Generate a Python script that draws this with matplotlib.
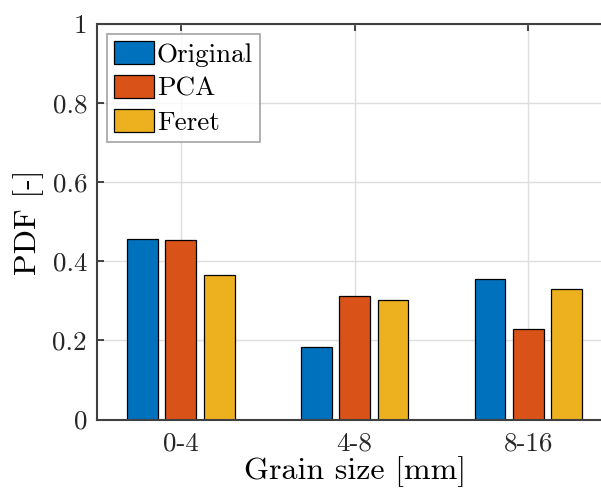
import numpy as np
import matplotlib
matplotlib.use("Agg")
import matplotlib.pyplot as plt

plt.rcParams['font.family'] = ['cmr10', 'DejaVu Serif']
plt.rcParams['mathtext.fontset'] = 'cm'
plt.rcParams['axes.formatter.use_mathtext'] = True

categories = ["0-4", "4-8", "8-16"]
series = ["Original", "PCA", "Feret"]
original = [0.457, 0.183, 0.355]
pca = [0.454, 0.313, 0.228]
feret = [0.365, 0.302, 0.329]
colors = ["#0072BD", "#D95319", "#EDB120"]

fig = plt.figure(figsize=(6.01, 4.95), dpi=100)
ax = fig.add_axes([0.161, 0.1525, 0.858, 0.799])

x = np.arange(1, len(categories) + 1)
width = 0.178
offset = 0.221
for k, (vals, name) in enumerate(zip([original, pca, feret], series)):
    ax.bar(x + (k - 1) * offset, vals, width, color=colors[k], edgecolor="black",
           linewidth=0.9, label=name, zorder=3)

ax.set_xlim(0.517, 3.483)
ax.set_ylim(0, 1)
ax.set_xticks(x)
ax.set_xticklabels(categories)
ax.set_yticks([0, 0.2, 0.4, 0.6, 0.8, 1])
ax.set_yticklabels(["0", "0.2", "0.4", "0.6", "0.8", "1"])

ax.grid(True, color="#dedede", linewidth=1, zorder=0)
ax.tick_params(direction="in", length=5, width=1.2, color="#262626",
               labelsize=19.5, labelcolor="#262626", top=True, right=True)
ax.tick_params(axis="x", pad=9)
ax.tick_params(axis="y", pad=7)
for s in ax.spines.values():
    s.set_color("#404040")
    s.set_linewidth(1.5)
    s.set_zorder(4)
ax.spines["right"].set_visible(False)

ax.set_xlabel("Grain size [mm]", fontsize=23, labelpad=0)
ax.set_ylabel("PDF [-]", fontsize=23, labelpad=6)

leg = ax.legend(loc="upper left", fontsize=19.5, frameon=True, fancybox=False,
                edgecolor="#8c8c8c", handlelength=1.5, handleheight=0.95,
                handletextpad=0.1, labelspacing=0.3, borderpad=0.25,
                borderaxespad=0.37)
leg.get_frame().set_linewidth(1.2)

fig.savefig("out.png", dpi=100)
